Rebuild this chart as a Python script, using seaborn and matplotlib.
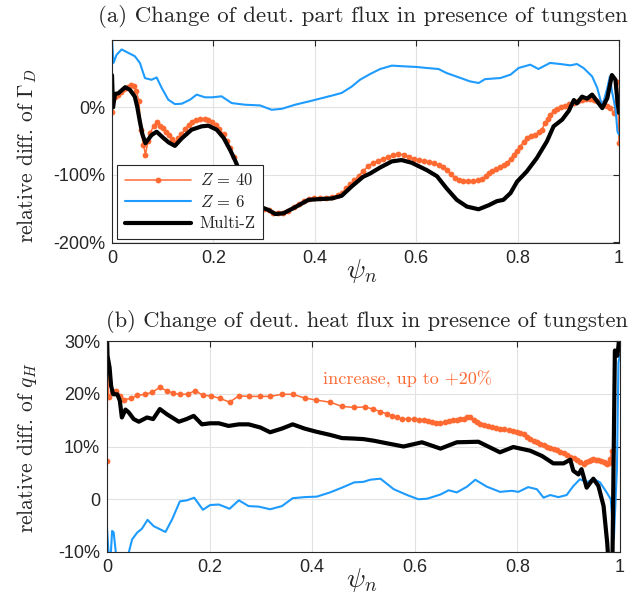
import pandas as pd
import matplotlib
matplotlib.use("Agg")
import matplotlib.pyplot as plt
import seaborn as sns

# ---- (a) relative change of deuterium particle flux, in percent ----
psi_gamma_z40 = [
    0.000, 0.001, 0.006, 0.012, 0.018, 0.024, 0.031, 0.037, 0.043, 0.048,
    0.053, 0.057, 0.062, 0.066, 0.071, 0.075, 0.082, 0.088, 0.094, 0.100,
    0.106, 0.112, 0.118, 0.124, 0.130, 0.137, 0.144, 0.151, 0.158, 0.166,
    0.174, 0.183, 0.190, 0.197, 0.205, 0.212, 0.220, 0.227, 0.233, 0.240,
    0.250, 0.262, 0.275, 0.290, 0.300, 0.309, 0.318, 0.328, 0.338, 0.348,
    0.358, 0.368, 0.378, 0.388, 0.398, 0.410, 0.422, 0.434, 0.445, 0.453,
    0.462, 0.470, 0.478, 0.487, 0.496, 0.505, 0.515, 0.525, 0.535, 0.545,
    0.555, 0.565, 0.575, 0.585, 0.595, 0.605, 0.615, 0.625, 0.635, 0.645,
    0.653, 0.660, 0.668, 0.677, 0.685, 0.693, 0.703, 0.713, 0.722, 0.730,
    0.737, 0.743, 0.750, 0.758, 0.766, 0.773, 0.779, 0.786, 0.792, 0.799,
    0.805, 0.812, 0.818, 0.826, 0.835, 0.842, 0.848, 0.854, 0.859, 0.864,
    0.871, 0.878, 0.886, 0.894, 0.902, 0.911, 0.919, 0.927, 0.935, 0.943,
    0.950, 0.957, 0.964, 0.970, 0.977, 0.983, 0.990, 0.994, 0.997, 1.000,
]
gamma_z40 = [
    -7, 14, 16, 19, 23, 27, 31, 33, 32, 24,
    10, -33, -55, -70, -50, -38, -28, -22, -27, -31,
    -36, -41, -47, -52, -46, -40, -32, -26, -22, -18,
    -17, -17, -19, -22, -26, -32, -40, -50, -60, -74,
    -95, -118, -136, -146, -150, -152, -156, -157, -156, -153,
    -148, -143, -139, -136, -135, -135, -134, -133, -130, -127,
    -120, -114, -108, -101, -94, -87, -82, -79, -76, -73,
    -71, -69, -70, -73, -76, -78, -80, -81, -83, -85,
    -89, -93, -99, -104, -107, -109, -109, -109, -108, -106,
    -102, -97, -94, -91, -88, -85, -82, -77, -70, -64,
    -58, -51, -46, -43, -41, -37, -33, -23, -17, -11,
    -6, -3, 0, 2, 5, 7, 9, 11, 12, 13,
    11, 9, 6, 4, 2, -1, -8, 5, 38, -53,
]

psi_gamma_z6 = [
    0.000, 0.003, 0.009, 0.019, 0.032, 0.045, 0.055, 0.065, 0.078, 0.088,
    0.098, 0.111, 0.124, 0.1375, 0.154, 0.167, 0.1835, 0.197, 0.216, 0.236,
    0.2625, 0.292, 0.315, 0.335, 0.361, 0.394, 0.4335, 0.453, 0.473, 0.489,
    0.509, 0.529, 0.552, 0.575, 0.601, 0.621, 0.644, 0.660, 0.684, 0.706,
    0.723, 0.736, 0.766, 0.786, 0.802, 0.825, 0.841, 0.864, 0.884, 0.904,
    0.917, 0.930, 0.947, 0.957, 0.967, 0.977, 0.982, 0.986, 0.993, 0.997, 1.000,
]
gamma_z6 = [
    100, 66, 78, 86, 81, 76, 66, 43.5, 41, 44.5,
    29, 11.5, 5, 5.5, 11.5, 19, 15, 15, 16.5, 6.5,
    4, 3, -3.5, -2, 4, 10, 17.5, 21.5, 31, 41,
    49.5, 57, 62, 61, 60, 58.5, 57, 51, 44.6, 38.7,
    36.2, 42, 43.6, 48.6, 58.5, 63.4, 57, 66, 64.4, 62.4,
    64.4, 58.5, 46, 29, 1.5, 29, 46, 24, -1, -35.7, -40.5,
]

psi_gamma_multi = [
    0.000, 0.002, 0.006, 0.0125, 0.020, 0.026, 0.0355, 0.045, 0.050, 0.055,
    0.060, 0.066, 0.072, 0.078, 0.088, 0.101, 0.112, 0.124, 0.1375, 0.157,
    0.177, 0.190, 0.2065, 0.220, 0.233, 0.243, 0.255, 0.270, 0.285, 0.298,
    0.3085, 0.322, 0.338, 0.361, 0.3875, 0.407, 0.4335, 0.453, 0.473, 0.495,
    0.509, 0.529, 0.552, 0.571, 0.591, 0.621, 0.641, 0.660, 0.680, 0.700,
    0.723, 0.743, 0.759, 0.772, 0.786, 0.799, 0.818, 0.838, 0.858, 0.871,
    0.888, 0.901, 0.911, 0.917, 0.927, 0.937, 0.947, 0.957, 0.967, 0.977,
    0.986, 0.993, 0.997, 1.000,
]
gamma_multi = [
    48, 0, 20, 21, 26, 30, 26, 16, 0, -21,
    -40, -53, -47, -41, -36, -45, -52, -57, -46, -33,
    -28, -27, -33, -45, -63, -79, -100, -125, -142, -149,
    -152, -158, -157, -148, -137, -136, -135, -131, -117, -103,
    -98, -89, -80, -78, -82, -93, -102, -120, -137, -147,
    -151, -145, -139, -137, -127, -110, -95, -75, -50, -28,
    -18, -5, 11, 6, 16, 13, 19, 9, -1, 14,
    48, 41, 9, -8,
]

# ---- (b) relative change of deuterium heat flux, in percent ----
psi_q_z40 = [
    0.000, 0.001, 0.003, 0.010, 0.018, 0.026, 0.034, 0.046, 0.059, 0.075,
    0.088, 0.103, 0.116, 0.129, 0.143, 0.157, 0.172, 0.187, 0.203, 0.221,
    0.239, 0.257, 0.276, 0.298, 0.318, 0.341, 0.362, 0.385, 0.408, 0.435,
    0.458, 0.482, 0.503, 0.518, 0.533, 0.545, 0.555, 0.565, 0.575, 0.587,
    0.598, 0.608, 0.617, 0.625, 0.633, 0.642, 0.650, 0.658, 0.666, 0.674,
    0.682, 0.689, 0.695, 0.702, 0.708, 0.715, 0.721, 0.728, 0.734, 0.742,
    0.750, 0.758, 0.766, 0.774, 0.783, 0.791, 0.799, 0.806, 0.812, 0.819,
    0.825, 0.832, 0.838, 0.845, 0.851, 0.858, 0.864, 0.871, 0.877, 0.884,
    0.890, 0.897, 0.903, 0.910, 0.916, 0.923, 0.929, 0.934, 0.939, 0.944,
    0.948, 0.953, 0.958, 0.963, 0.968, 0.972, 0.975, 0.978, 0.981, 0.984,
]
q_z40 = [
    7.3, 24, 19.3, 20.6, 20.6, 19.6, 18.9, 19.1, 19.7, 19.9,
    20.3, 21.2, 20.6, 20.1, 19.9, 19.9, 20.6, 19.7, 19.6, 19.1,
    18.4, 19.6, 19.5, 19.5, 19.5, 19.9, 19.9, 19.2, 18.8, 18.4,
    17.6, 17.4, 17.5, 17.1, 16.6, 16.2, 15.8, 15.5, 15.2, 15.2,
    15.2, 15.1, 15.1, 14.9, 14.7, 14.5, 14.4, 14.6, 14.9, 15.0,
    15.1, 15.2, 15.3, 15.5, 15.6, 15.0, 14.6, 14.3, 14.1, 13.9,
    13.7, 13.5, 13.4, 13.3, 13.1, 12.9, 12.8, 12.6, 12.3, 11.8,
    11.4, 11.1, 10.8, 10.5, 10.3, 10.0, 9.8, 9.6, 9.4, 9.0,
    8.7, 8.4, 8.1, 7.8, 7.5, 7.0, 6.6, 7.0, 7.3, 7.5,
    7.6, 7.5, 7.4, 7.2, 7.1, 6.9, 6.6, 6.8, 7.6, 9.2,
]

psi_q_z6 = [
    0.000, 0.003, 0.007, 0.010, 0.013, 0.018, 0.039, 0.049, 0.059, 0.068,
    0.079, 0.091, 0.114, 0.127, 0.142, 0.156, 0.170, 0.187, 0.201, 0.218,
    0.239, 0.257, 0.276, 0.296, 0.318, 0.341, 0.362, 0.385, 0.409, 0.435,
    0.458, 0.482, 0.500, 0.513, 0.533, 0.559, 0.585, 0.607, 0.624, 0.650,
    0.666, 0.682, 0.702, 0.718, 0.740, 0.766, 0.789, 0.802, 0.821, 0.838,
    0.851, 0.864, 0.880, 0.896, 0.909, 0.922, 0.935, 0.948, 0.961, 0.974,
    0.982, 0.988, 0.994, 0.997, 1.000,
]
q_z6 = [
    -5.4, -10.1, -11, -6, -6.3, -10.8, -11.4, -7.6, -6.3, -5.6,
    -3.9, -5.1, -6.2, -3.8, -0.4, -0.2, 0.3, -2, -1.1, -1,
    -1.8, -0.2, -1.3, -1.4, -1.9, -1.3, 0.2, 0.4, 0.5, 1.3,
    2.2, 3.2, 3.3, 3.7, 3.9, 1.9, 0.8, 0, 0.1, 0.9,
    1.7, 1.3, 2.4, 3.7, 2.4, 1.4, 1.6, 1.4, 2.3, 1.9,
    0.3, 0.8, 0.4, 0.8, 2.5, 3.8, 3.2, 3.9, 3.2, 1.3,
    0, -7.6, 5.7, 26, 27.2,
]

psi_q_multi = [
    0.000, 0.001, 0.005, 0.008, 0.012, 0.020, 0.025, 0.029, 0.036, 0.042,
    0.052, 0.062, 0.078, 0.090, 0.103, 0.117, 0.140, 0.155, 0.169, 0.185,
    0.201, 0.218, 0.237, 0.257, 0.276, 0.299, 0.318, 0.341, 0.362, 0.385,
    0.408, 0.435, 0.458, 0.482, 0.500, 0.520, 0.546, 0.578, 0.614, 0.650,
    0.682, 0.724, 0.766, 0.792, 0.825, 0.848, 0.870, 0.890, 0.903, 0.909,
    0.919, 0.925, 0.935, 0.948, 0.958, 0.968, 0.975, 0.979, 0.985, 0.990,
    0.995, 1.000,
]
q_multi = [
    31, 27.2, 25, 21.5, 19.9, 19.9, 18.7, 15.5, 17, 16.5,
    15.2, 14.7, 15.5, 15.2, 17.1, 16.1, 14.7, 15.2, 15.8, 14.2,
    14.4, 14.4, 13.9, 14.2, 14.2, 13.6, 12.7, 13.4, 14.2, 13.4,
    12.8, 12.2, 11.6, 11.5, 11.4, 11.1, 10.6, 10.0, 10.8, 9.6,
    10.8, 10.9, 8.9, 9.9, 9.2, 8.2, 6.8, 6.8, 7.5, 5.4,
    4.7, 5.7, 2.2, 3.9, 2.5, -1.3, -8.2, -14, -14, 28.2,
    27.2, 32,
]

xtick_vals = [0, 0.2, 0.4, 0.6, 0.8, 1]
xtick_text = ["0", "0.2", "0.4", "0.6", "0.8", "1"]
gamma_ticks = [-200, -100, 0]
gamma_tick_text = ["-200%", "-100%", "0%"]
q_ticks = [-10, 0, 10, 20, 30]
q_tick_text = ["-10%", "0", "10%", "20%", "30%"]

ORANGE = "#FF6A33"
BLUE = "#1E9BFF"
BLACK = "#000000"
AXCOL = "#262626"

sns.set_style("white")
plt.rcParams["mathtext.fontset"] = "cm"
plt.rcParams["font.family"] = ["cmr10", "DejaVu Serif"]
plt.rcParams["axes.unicode_minus"] = False


def draw_panel(ax, series, legend):
    for psi, vals, lab, col, lw, mk in series:
        df = pd.DataFrame({"psi": psi, "val": vals})
        sns.lineplot(data=df, x="psi", y="val", ax=ax, color=col, linewidth=lw,
                     marker=mk, markersize=4.2, markeredgewidth=0,
                     estimator=None, sort=False, label=lab if legend else None,
                     legend=legend)
    ax.set_xlim(0, 1)
    ax.set_xticks(xtick_vals)
    ax.set_xticklabels(xtick_text, family="Liberation Sans", fontsize=13, color=AXCOL)
    ax.grid(True, color="#e2e2e2", linewidth=0.8)
    ax.set_axisbelow(True)
    ax.tick_params(direction="in", length=4, width=0.8, color=AXCOL,
                   top=True, right=True, pad=5)
    for sp in ax.spines.values():
        sp.set_color(AXCOL)
        sp.set_linewidth(0.8)
    ax.set_xlabel("")
    ax.set_ylabel("")


fig = plt.figure(figsize=(6.36, 6.04), dpi=100)
ax1 = fig.add_axes([112 / 636, (604 - 243) / 604, 507 / 636, 203 / 604])
ax2 = fig.add_axes([107 / 636, (604 - 552) / 604, 513 / 636, 211 / 604])

draw_panel(ax1, [
    (psi_gamma_z40, gamma_z40, r"$Z\,=\,40$", ORANGE, 1.1, "o"),
    (psi_gamma_z6, gamma_z6, r"$Z\,=\,6$", BLUE, 1.5, None),
    (psi_gamma_multi, gamma_multi, "Multi-Z", BLACK, 3.0, None),
], legend=True)
ax1.set_ylim(-201, 100)
ax1.set_yticks(gamma_ticks)
ax1.set_yticklabels(gamma_tick_text, family="Liberation Sans", fontsize=13, color=AXCOL)

leg = ax1.legend(loc="lower left", bbox_to_anchor=(0.01, 0.02), fontsize=12,
                 handlelength=4.0, frameon=True, fancybox=False, framealpha=1,
                 edgecolor=AXCOL, borderpad=0.45, labelspacing=0.35,
                 handletextpad=0.5, borderaxespad=0)
leg.get_frame().set_linewidth(0.8)
leg.set_zorder(10)

draw_panel(ax2, [
    (psi_q_z40, q_z40, None, ORANGE, 1.1, "o"),
    (psi_q_z6, q_z6, None, BLUE, 1.5, None),
    (psi_q_multi, q_multi, None, BLACK, 3.0, None),
], legend=False)
ax2.set_ylim(-10, 30)
ax2.set_yticks(q_ticks)
ax2.set_yticklabels(q_tick_text, family="Liberation Sans", fontsize=13, color=AXCOL)
ax2.text(0.585, 22.8, "increase, up to +20%", color=ORANGE, fontsize=13,
         ha="center", va="center")

fig.text(363 / 636, 1 - 17 / 604, "(a) Change of deut. part flux in presence of tungsten",
         ha="center", va="center", fontsize=16.5)
fig.text(367 / 636, 1 - 322 / 604, "(b) Change of deut. heat flux in presence of tungsten",
         ha="center", va="center", fontsize=16.2)
fig.text(27 / 636, 1 - 156 / 604, r"relative diff. of $\Gamma_D$", rotation=90,
         ha="center", va="center", fontsize=15.5)
fig.text(27 / 636, 1 - 448 / 604, r"relative diff. of $q_H$", rotation=90,
         ha="center", va="center", fontsize=15.5)
fig.text(362 / 636, 1 - 271 / 604, r"$\psi_n$", ha="center", va="center", fontsize=20)
fig.text(362 / 636, 1 - 580 / 604, r"$\psi_n$", ha="center", va="center", fontsize=20)

fig.savefig("out.png", dpi=100)
